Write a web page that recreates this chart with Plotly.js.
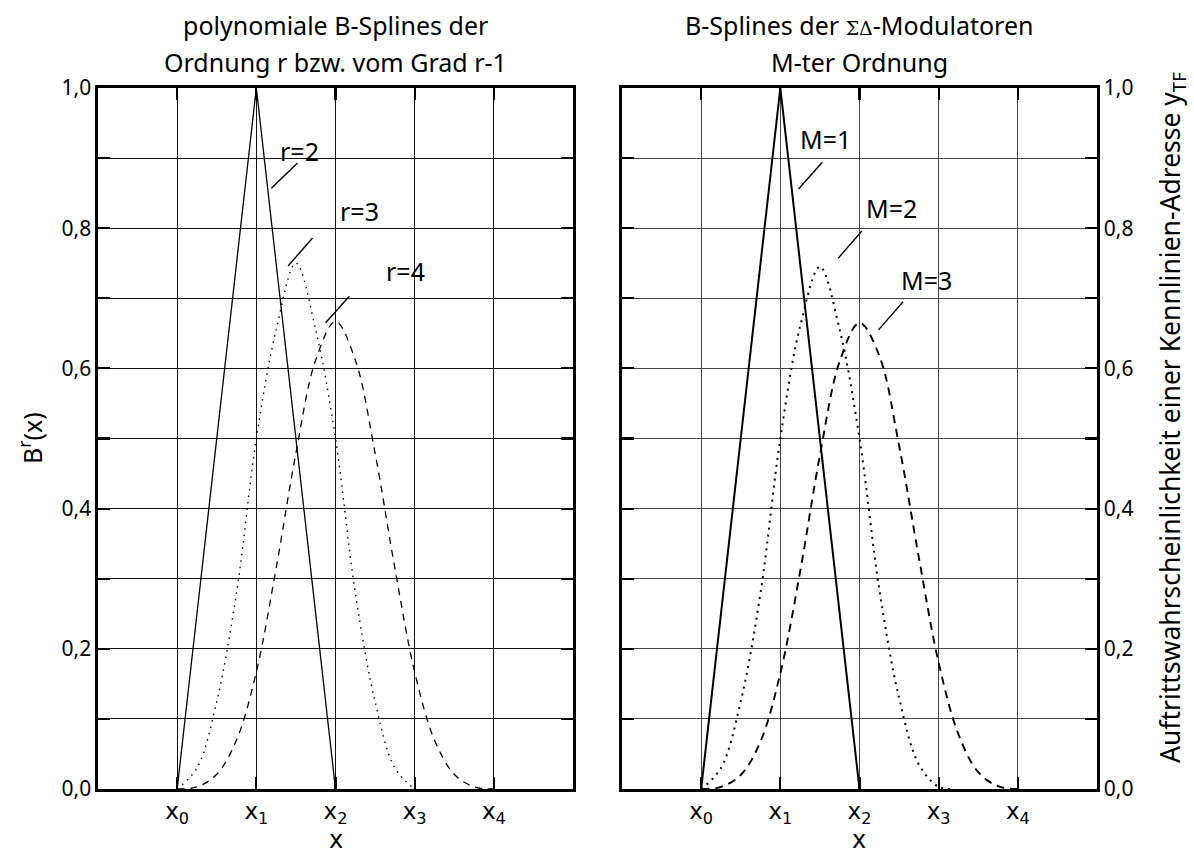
<!DOCTYPE html>
<html>
<head>
<meta charset="utf-8">
<script src="https://cdn.plot.ly/plotly-3.0.1.min.js"></script>
<style>
  html, body { margin: 0; padding: 0; background: #fff; }
  #chart { width: 1194px; height: 848px; }
</style>
</head>
<body>
<div id="chart"></div>
<script>
// Knot positions and tick labels
const xTickVals = [-1, 0, 1, 2, 3, 4, 5];
const xTickText = ['', 'x<sub>0</sub>', 'x<sub>1</sub>', 'x<sub>2</sub>', 'x<sub>3</sub>', 'x<sub>4</sub>', ''];
const yTickVals = [0, 0.1, 0.2, 0.3, 0.4, 0.5, 0.6, 0.7, 0.8, 0.9, 1.0];
const yTickText = ['0,0', '', '0,2', '', '0,4', '', '0,6', '', '0,8', '', '1,0'];

// Left panel: polynomial B-splines of order r
const xOrder2 = [0, 1, 2];
const yOrder2 = [0, 1, 0];
const xOrder3 = [0, 0.25, 0.5, 0.75, 1, 1.25, 1.5, 1.75, 2, 2.25, 2.5, 2.75, 3];
const yOrder3 = [0, 0.03, 0.125, 0.28, 0.5, 0.655, 0.75, 0.655, 0.5, 0.28, 0.125, 0.03, 0];
const xOrder4 = [0, 0.25, 0.5, 0.75, 1, 1.25, 1.5, 1.75, 2, 2.25, 2.5, 2.75, 3, 3.25, 3.5, 3.75, 4];
const yOrder4 = [0, 0.003, 0.021, 0.07, 0.167, 0.315, 0.479, 0.612, 0.667, 0.612, 0.479, 0.315, 0.167, 0.07, 0.021, 0.003, 0];

// Right panel: B-splines of sigma-delta modulators of order M
const xMod1 = [0, 1, 2];
const yMod1 = [0, 1, 0];
const xMod2 = [0, 0.25, 0.5, 0.75, 1, 1.25, 1.5, 1.75, 2, 2.25, 2.5, 2.75, 3, 3.15];
const yMod2 = [0, 0.03, 0.125, 0.28, 0.5, 0.66, 0.745, 0.655, 0.5, 0.285, 0.13, 0.035, 0.003, 0];
const xMod3 = [0, 0.25, 0.5, 0.75, 1, 1.25, 1.5, 1.75, 2, 2.25, 2.5, 2.75, 3, 3.25, 3.5, 3.75, 4];
const yMod3 = [0, 0.003, 0.02, 0.068, 0.165, 0.31, 0.476, 0.61, 0.665, 0.618, 0.49, 0.33, 0.18, 0.078, 0.024, 0.004, 0];

// Curve labels and their leader lines: [text, textX, textY, lineX0, lineY0, lineX1, lineY1]
const leftLabels = [
  ['r=2', 1.55, 0.91, 1.19, 0.857, 1.52, 0.893],
  ['r=3', 2.30, 0.824, 1.40, 0.746, 1.71, 0.786],
  ['r=4', 2.89, 0.739, 1.875, 0.665, 2.175, 0.703]
];
const rightLabels = [
  ['M=1', 1.57, 0.927, 1.23, 0.856, 1.53, 0.894],
  ['M=2', 2.40, 0.829, 1.73, 0.757, 2.03, 0.796],
  ['M=3', 2.84, 0.726, 2.24, 0.655, 2.55, 0.695]
];

const FONT = 'Noto Sans, Open Sans, DejaVu Sans, sans-serif';
const W = 1194, H = 848;

const traces = [
  { x: xOrder2, y: yOrder2, xaxis: 'x', yaxis: 'y', mode: 'lines', line: { color: '#000', width: 1.3 } },
  { x: xOrder3, y: yOrder3, xaxis: 'x', yaxis: 'y', mode: 'lines', line: { color: '#000', width: 1.4, dash: '1.5px,5px', shape: 'spline' } },
  { x: xOrder4, y: yOrder4, xaxis: 'x', yaxis: 'y', mode: 'lines', line: { color: '#000', width: 1.3, dash: '7px,6px', shape: 'spline' } },
  { x: xMod1, y: yMod1, xaxis: 'x2', yaxis: 'y2', mode: 'lines', line: { color: '#000', width: 2 } },
  { x: xMod2, y: yMod2, xaxis: 'x2', yaxis: 'y2', mode: 'lines', line: { color: '#000', width: 2, dash: '2px,5px', shape: 'spline' } },
  { x: xMod3, y: yMod3, xaxis: 'x2', yaxis: 'y2', mode: 'lines', line: { color: '#000', width: 1.9, dash: '8px,6px', shape: 'spline' } }
];

function xAxis(domain, gridColor) {
  return {
    domain: domain, range: [-1, 5], fixedrange: true,
    tickvals: xTickVals, ticktext: xTickText,
    ticks: 'inside', ticklen: 12, tickwidth: 2.2, tickcolor: '#000',
    showgrid: true, gridcolor: gridColor, gridwidth: 1.1,
    showline: true, linecolor: '#000', linewidth: 2.6, mirror: 'allticks',
    zeroline: false, tickfont: { family: 'DejaVu Sans, sans-serif', size: 23, color: '#000' }
  };
}
function yAxis(anchor, side, gridColor) {
  return {
    domain: [(H - 789) / H, (H - 88) / H], range: [0, 1], fixedrange: true,
    anchor: anchor, side: side,
    tickvals: yTickVals, ticktext: yTickText,
    ticks: 'inside', ticklen: 12, tickwidth: 2.2, tickcolor: '#000',
    showgrid: true, gridcolor: gridColor, gridwidth: 1.1,
    showline: true, linecolor: '#000', linewidth: 2.6, mirror: 'allticks',
    zeroline: false, tickfont: { family: FONT, size: 21, color: '#000' }
  };
}

const annotations = [];
const shapes = [];
function addLabels(list, xr, yr) {
  list.forEach(function (l) {
    annotations.push({ xref: xr, yref: yr, x: l[1], y: l[2], xanchor: 'center', yanchor: 'middle',
      text: l[0], showarrow: false, font: { family: FONT, size: 25, color: '#000' } });
    shapes.push({ type: 'line', xref: xr, yref: yr, x0: l[3], y0: l[4], x1: l[5], y1: l[6],
      line: { color: '#000', width: 1.4 } });
  });
}
addLabels(leftLabels, 'x', 'y');
addLabels(rightLabels, 'x2', 'y2');

// Page-level texts: [text, centerX px, centerY px, size, angle]
const pageTexts = [
  ['polynomiale B-Splines der', 335.5, 25, 25, 0],
  ['Ordnung r bzw. vom Grad r-1', 335.5, 62, 25, 0],
  ['B-Splines der <span style="font-family:\'DejaVu Serif\', serif; font-size:19px">ΣΔ</span>-Modulatoren', 859, 25, 25, 0],
  ['M-ter Ordnung', 859, 62, 25, 0],
  ['B<sup>r</sup>(x)', 30, 438, 25, -90],
  ['Auftrittswahrscheinlichkeit einer Kennlinien-Adresse y<sub>TF</sub>', 1171, 418, 26.5, -90]
];
pageTexts.forEach(function (t) {
  annotations.push({ xref: 'paper', yref: 'paper', x: t[1] / W, y: 1 - t[2] / H,
    xanchor: 'center', yanchor: 'middle', showarrow: false, textangle: t[4],
    text: t[0], font: { family: FONT, size: t[3], color: '#000' } });
});
[335.5, 859].forEach(function (cx) {
  annotations.push({ xref: 'paper', yref: 'paper', x: cx / W, y: 1 - 840 / H,
    xanchor: 'center', yanchor: 'middle', showarrow: false, text: 'x',
    font: { family: 'DejaVu Sans, sans-serif', size: 24, color: '#000' } });
});

const layout = {
  width: W, height: H,
  margin: { l: 0, r: 0, t: 0, b: 0 },
  paper_bgcolor: '#fff', plot_bgcolor: '#fff',
  showlegend: false,
  separators: ',.',
  font: { family: FONT, color: '#000' },
  xaxis: xAxis([98 / W, 573 / W], '#111'),
  yaxis: yAxis('x', 'left', '#111'),
  xaxis2: xAxis([622 / W, 1097 / W], '#444'),
  yaxis2: yAxis('x2', 'right', '#444'),
  annotations: annotations,
  shapes: shapes
};
layout.xaxis.anchor = 'y';
layout.xaxis2.anchor = 'y2';

Plotly.newPlot('chart', traces, layout, { staticPlot: true, displayModeBar: false });
</script>
</body>
</html>
